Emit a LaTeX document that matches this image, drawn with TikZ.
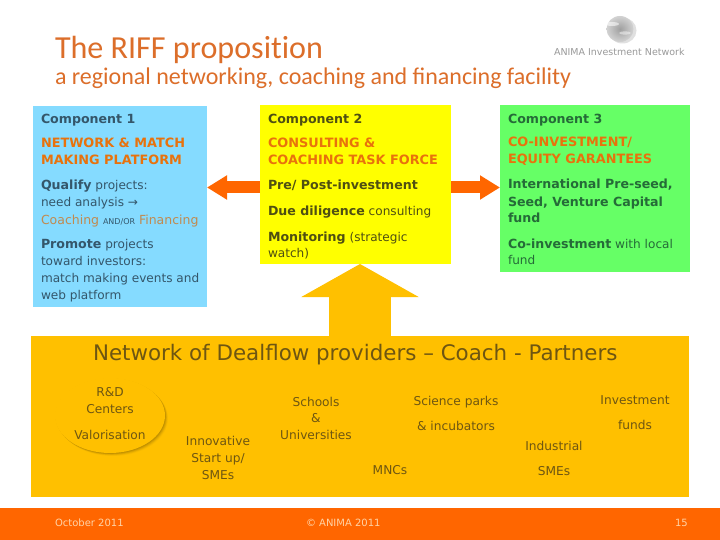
\documentclass[tikz,border=0pt]{standalone}
\usepackage{fontspec}
\setmainfont{DejaVu Sans}
\newfontfamily\calib{Carlito}
\newfontfamily\calibn[RawFeature=-liga]{Carlito}
\usetikzlibrary{arrows.meta}
\definecolor{cblue}{HTML}{85DBFF}
\definecolor{cyel}{HTML}{FFFF00}
\definecolor{cgrn}{HTML}{66FF66}
\definecolor{cpan}{HTML}{FFC000}
\definecolor{cfoot}{HTML}{FF6600}
\definecolor{ctitle}{HTML}{DC6E2A}
\definecolor{chead}{HTML}{E8720C}
\definecolor{tblue}{HTML}{34566A}
\definecolor{tyel}{HTML}{4F4F12}
\definecolor{tgrn}{HTML}{256B38}
\definecolor{tpan}{HTML}{6E5612}
\definecolor{tcoach}{HTML}{C08A50}
\definecolor{tfoot}{HTML}{FFD3A6}
\newcommand{\bo}[1]{{\fontsize{12.6pt}{15pt}\selectfont\bfseries #1}}
\newcommand{\cp}[1]{{\fontsize{12.85pt}{15pt}\selectfont\bfseries #1}}
\newcommand{\cf}[1]{\textcolor{tcoach}{\fontsize{12.5pt}{15pt}\selectfont #1}}
\newcommand{\tlb}[4]{\node[base,text=#1,font=\fontsize{12.1pt}{15pt}\selectfont] (#2) at (#3) {#4};}
\tikzset{
  base/.style={anchor=base west,inner sep=0pt,outer sep=0pt},
  card/.style={anchor=north west,inner sep=0pt,outer sep=0pt,draw=none},
  pan/.style={anchor=base,inner sep=0pt,outer sep=0pt,text=tpan,font=\fontsize{12.2pt}{15pt}\selectfont},
  fat/.style={draw=cfoot,line width=12pt,-{Triangle[length=20pt,width=23pt]}},
  foo/.style={base,text=tfoot,font=\fontsize{10pt}{12pt}\selectfont},
}
\begin{document}
\begin{tikzpicture}[x=1pt,y=-1pt]
\useasboundingbox (0,0) rectangle (720,540);
\fill[white] (0,0) rectangle (720,540);
% footer and panels
\node[card,fill=cfoot,minimum width=720pt,minimum height=32pt] (foot) at (0,508) {};
\node[card,fill=cpan,minimum width=658pt,minimum height=161pt] (panel) at (31,336) {};
\node[card,fill=cblue,minimum width=174pt,minimum height=201pt] (c1) at (33,106) {};
\node[card,fill=cyel,minimum width=191pt,minimum height=159pt] (c2) at (260,105) {};
\node[card,fill=cgrn,minimum width=190pt,minimum height=167pt] (c3) at (500,105) {};
% arrows
\coordinate (ya) at (0,187.5);
\draw[fat] (c2.west |- ya) -- (c1.east |- ya);
\draw[fat] (c2.east |- ya) -- (c3.west |- ya);
\coordinate (upb) at (360,336.5);
\coordinate (upt) at (360,264);
\draw[draw=cpan,line width=62pt,-{Triangle[length=33pt,width=116pt]}] (upb) -- (upt);
% titles
\node[base,text=ctitle,font=\calibn\fontsize{32.1pt}{32pt}\selectfont] (t1) at (55,59) {The RIFF proposition};
\node[base,text=ctitle,font=\calib\fontsize{24pt}{24pt}\selectfont] (t2) at (55,85) {a regional networking, coaching and financing facility};
% logo
\fill[black!12] (622.5,30.5) ellipse (14pt and 13pt);
\shade[inner color=gray!75,outer color=gray!35] (620,29) ellipse (13.5pt and 13pt);
\fill[white,opacity=.55] (612,24) ellipse (7pt and 2pt);
\fill[white,opacity=.45] (625,33) ellipse (6pt and 1.6pt);
\node[base,text=black!40,font=\fontsize{9.5pt}{10pt}\selectfont] (logo) at (554,56) {ANIMA Investment Network};
% component 1
\tlb{tblue}{a1}{41,124}{\bo{Component 1}}
\tlb{chead}{a2}{41,148}{\cp{NETWORK \& MATCH}}
\tlb{chead}{a3}{41,165}{\cp{MAKING PLATFORM}}
\tlb{tblue}{a4}{41,190}{\bo{Qualify} projects:}
\tlb{tblue}{a5}{41,207}{need analysis →}
\tlb{tblue}{a6}{41,225}{\cf{Coaching} {\fontsize{8pt}{9pt}\selectfont AND/OR} \cf{Financing}}
\tlb{tblue}{a7}{41,248}{\bo{Promote} projects}
\tlb{tblue}{a8}{41,265}{toward investors:}
\tlb{tblue}{a9}{41,282.5}{match making events and}
\tlb{tblue}{a10}{41,299.5}{web platform}
% component 2
\tlb{tyel}{b1}{268,124}{\bo{Component 2}}
\tlb{chead}{b2}{268,148}{\cp{CONSULTING \&}}
\tlb{chead}{b3}{268,165}{\cp{COACHING TASK FORCE}}
\tlb{tyel}{b4}{268,190}{\bo{Pre/ Post-investment}}
\tlb{tyel}{b5}{268,215}{\bo{Due diligence} consulting}
\tlb{tyel}{b6}{268,241}{\bo{Monitoring} (strategic}
\tlb{tyel}{b7}{268,258}{watch)}
% component 3
\tlb{tgrn}{d1}{508,124}{\bo{Component 3}}
\tlb{chead}{d2}{508,147}{\cp{CO-INVESTMENT/}}
\tlb{chead}{d3}{508,164}{\cp{EQUITY GARANTEES}}
\tlb{tgrn}{d4}{508,189}{\bo{International Pre-seed,}}
\tlb{tgrn}{d5}{508,206.5}{\bo{Seed,  Venture Capital}}
\tlb{tgrn}{d6}{508,222.5}{\bo{fund}}
\tlb{tgrn}{d7}{508,248}{\bo{Co-investment} with local}
\tlb{tgrn}{d8}{508,264.5}{fund}
% panel
\node[base,text=tpan,font=\fontsize{21.4pt}{24pt}\selectfont] (h) at (93,360) {Network of Dealflow providers – Coach - Partners};
\foreach \o/\s in {5/.04,4/.07,3/.10,2/.13,1/.16}{
  \fill[black!60!cpan,opacity=\s] (110+\o*.6,415.5+\o*.6) ellipse (55pt and 37.5pt);
}
\fill[cpan] (110,415.5) ellipse (55pt and 37.5pt);
\node[pan] (e1) at (110,396.5) {R\&D};
\node[pan] (e2) at (110,413.5) {Centers};
\node[pan] (e3) at (110,439) {Valorisation};
\node[pan] (f1) at (218,445) {Innovative};
\node[pan] (f2) at (218,462) {Start up/};
\node[pan] (f3) at (218,479) {SMEs};
\node[pan] (g1) at (316,406) {Schools};
\node[pan] (g2) at (316,422) {\&};
\node[pan] (g3) at (316,439) {Universities};
\node[pan] (s1) at (456,405) {Science parks};
\node[pan] (s2) at (456,430) {\& incubators};
\node[pan] (m1) at (390,474) {MNCs};
\node[pan] (i1) at (554,450) {Industrial};
\node[pan] (i2) at (554,475) {SMEs};
\node[pan] (v1) at (635,404) {Investment};
\node[pan] (v2) at (635,429) {funds};
% footer text
\node[foo] (o1) at (55,526) {October 2011};
\node[foo] (o2) at (306,526) {© ANIMA 2011};
\node[foo] (o3) at (675,526) {15};
\end{tikzpicture}
\end{document}
